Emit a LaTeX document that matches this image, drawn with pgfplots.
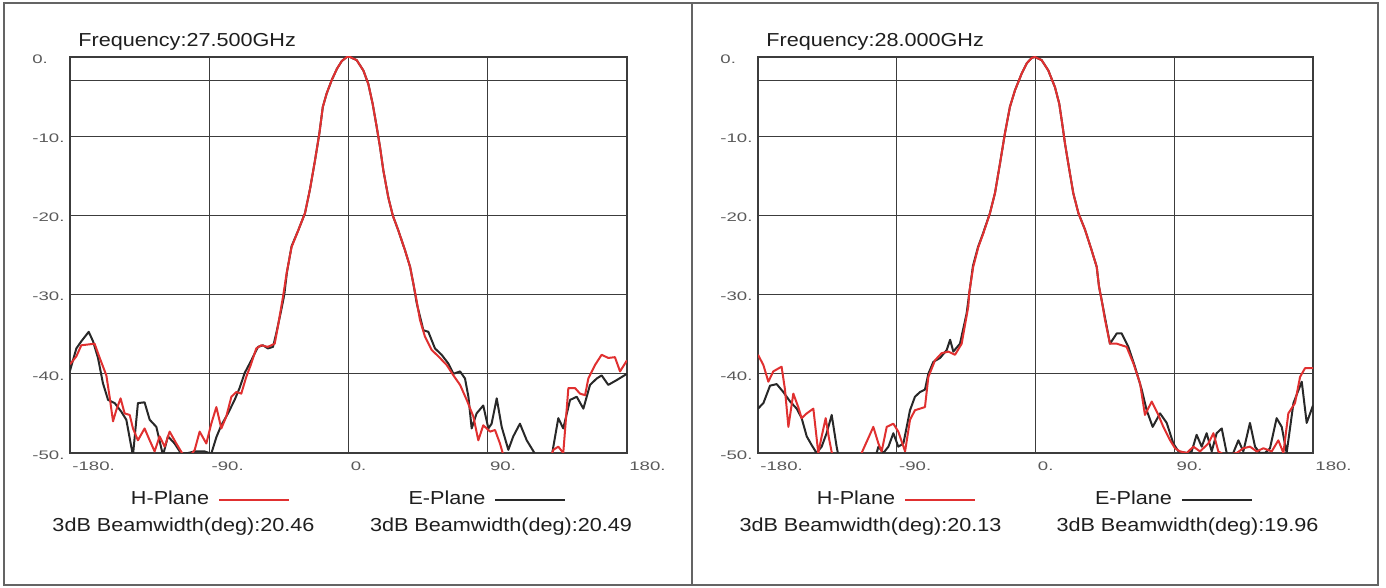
\documentclass[border=0pt]{standalone}
\usepackage{fontspec}
\setmainfont{Liberation Sans}
\newfontfamily\tickfont[FakeStretch=1.5]{Liberation Sans}
\newfontfamily\lblfont[FakeStretch=1.15]{Liberation Sans}
\usepackage{pgfplots}
\pgfplotsset{compat=1.18}
\definecolor{hred}{RGB}{224,48,48}
\definecolor{eblk}{RGB}{40,40,40}
\definecolor{gridc}{RGB}{60,60,60}
\definecolor{tickc}{RGB}{90,90,90}
\definecolor{framec}{RGB}{100,100,100}
\definecolor{txtc}{RGB}{30,30,30}
\pgfplotsset{pat/.style={
  scale only axis, width=278.5pt, height=198pt,
  xmin=-180,xmax=180,ymin=-50,ymax=0,
  xtick={-180,-90,0,90,180}, xticklabels={{-180.},{-90.},{0.},{90.},{180.}},
  ytick={-50,-40,-30,-20,-10,0}, yticklabels={{-50.},{-40.},{-30.},{-20.},{-10.},{0.}},
  extra y ticks={-3}, extra y tick labels={},
  extra y tick style={grid=major},
  grid=major, major grid style={gridc, line width=0.65pt},
  axis line style={gridc, line width=0.65pt},
  major tick length=0pt,
  ticklabel style={font=\tickfont\fontsize{6.2pt}{7pt}\selectfont, text=tickc, inner sep=0pt},
  xticklabel style={anchor=north west, xshift=1pt, yshift=-4pt},
  yticklabel style={anchor=west, xshift=-19pt, yshift=-1pt},
  every axis plot/.append style={line width=1pt, line join=round},
}}
\begin{document}
\begin{tikzpicture}
\useasboundingbox (0,0) rectangle (693pt,294pt);
% ---------------- left panel ----------------
\begin{axis}[pat, at={(35pt,67.5pt)}, anchor=south west]
\addplot[eblk] coordinates {
(-180,-39.6) (-175.9,-36.8) (-172.7,-35.9) (-167.9,-34.7) (-165.1,-35.9) (-161.9,-38.0)
(-158.7,-41.2) (-155.4,-43.3) (-151.1,-43.7) (-146.8,-44.8) (-143.6,-45.8) (-140.4,-49.2)
(-139.3,-50.3) (-136.1,-43.7) (-131.8,-43.6) (-128.5,-45.8) (-124.2,-46.7) (-119.9,-50.3)
(-116.7,-47.9) (-112.4,-48.8) (-108.1,-50.1) (-103.7,-50.0) (-99.4,-49.8) (-93.0,-49.8)
(-88.7,-50.1) (-85.4,-48.0) (-82.2,-46.5) (-77.9,-45.0) (-73.6,-43.3) (-70.4,-41.8)
(-67.1,-39.9) (-62.8,-38.3) (-58.5,-36.6) (-55.3,-36.4) (-52.1,-36.8) (-48.8,-36.6)
(-46.7,-34.9) (-43.4,-31.9) (-41.5,-30.0) (-39.8,-27.2) (-36.8,-23.9) (-32.5,-21.9)
(-28.1,-19.7) (-24.9,-16.7) (-21.6,-13.0) (-18.8,-9.6) (-16.6,-6.3) (-14.1,-4.6)
(-10.8,-2.9) (-7.5,-1.5) (-4.3,-0.5) (-1.1,0) (1.0,0) (5.3,-0.4) (9.6,-1.7) (12.8,-3.4)
(15.6,-5.9) (18.2,-8.8) (20.4,-11.4) (22.5,-14.3) (25.7,-17.7) (28.6,-20.0) (32.2,-21.9)
(36.5,-24.4) (39.8,-26.5) (41.9,-28.6) (44.1,-31.1) (48.4,-34.5) (51.6,-34.7) (55.9,-36.8)
(60.2,-37.6) (64.5,-38.7) (67.8,-40.0) (72.1,-39.7) (75.3,-40.6) (77.5,-42.9) (79.6,-46.9)
(82.8,-45.0) (87.1,-44.0) (90.4,-46.9) (92.5,-46.3) (95.8,-43.1) (99.0,-46.7) (103.3,-49.6)
(106.5,-47.9) (110.8,-46.3) (115.2,-48.4) (120.5,-50.1) (125,-52) (130,-52) (132.4,-49.2)
(135.6,-45.6) (138.8,-46.9) (143.2,-43.3) (147.5,-42.9) (151.8,-44.4) (156.1,-41.4)
(160.4,-40.6) (163.6,-40.2) (167.9,-41.4) (173.3,-40.8) (180,-40.0)
};
\addplot[hred] coordinates {
(-180,-38.8) (-175.9,-37.8) (-172.7,-36.4) (-168.4,-36.3) (-164.1,-36.2) (-160.8,-38.0)
(-156.5,-40.2) (-154.4,-42.9) (-152.2,-46.0) (-150.1,-44.6) (-147.3,-43.1) (-144.7,-45.0)
(-141.4,-45.2) (-139.3,-46.9) (-136.1,-48.4) (-131.8,-46.9) (-128.5,-48.4) (-125.3,-49.8)
(-122.1,-47.9) (-118.8,-49.2) (-115.6,-47.3) (-111.3,-48.8) (-107.0,-50.2) (-102.7,-50.5)
(-99.4,-49.6) (-96.2,-47.3) (-91.9,-48.8) (-88.7,-46.3) (-85.4,-44.2) (-82.2,-46.9)
(-79.0,-45.4) (-75.7,-42.9) (-72.5,-42.3) (-69.3,-42.5) (-66.1,-40.4) (-63.2,-38.9)
(-59.6,-36.8) (-56.4,-36.4) (-52.1,-36.6) (-47.7,-36.2) (-45.6,-34.0) (-42.1,-30.0)
(-40.0,-27.3) (-36.8,-24.0) (-32.5,-21.9) (-28.1,-19.7) (-24.9,-16.7) (-21.6,-13.0)
(-18.8,-9.6) (-16.6,-6.3) (-14.1,-4.6) (-10.8,-2.9) (-7.5,-1.5) (-4.3,-0.5) (-1.1,0)
(1.0,0) (5.3,-0.4) (9.6,-1.7) (12.8,-3.4) (15.6,-5.9) (18.2,-8.8) (20.4,-11.4) (22.5,-14.3)
(25.7,-17.7) (28.6,-20.0) (32.2,-21.9) (36.5,-24.4) (39.8,-26.5) (41.9,-28.6) (43.6,-30.3)
(46.2,-33.2) (49.4,-35.3) (53.8,-37.0) (58.1,-37.8) (63.5,-38.9) (67.8,-40.2) (72.1,-41.4)
(76.4,-43.3) (80.7,-45.4) (83.9,-48.4) (87.1,-46.5) (91.5,-47.3) (94.7,-47.1) (97.9,-48.8)
(100.1,-50.3) (104,-52) (120,-52) (128,-52) (132.4,-49.6) (135.6,-49.2) (138.8,-50.0)
(142.1,-41.8) (146.4,-41.8) (149.6,-42.5) (152.9,-42.7) (155.0,-40.6) (159.3,-38.9)
(163.6,-37.6) (167.9,-38.0) (172.2,-37.9) (175.5,-39.7) (180,-38.3)
};
\end{axis}
% ---------------- right panel ----------------
\begin{axis}[pat, width=277.5pt, at={(379pt,67.5pt)}, anchor=south west]
\addplot[eblk] coordinates {
(-180,-44.4) (-176.5,-43.7) (-172.2,-41.5) (-167.9,-41.3) (-163.6,-42.3) (-159.2,-43.5)
(-154.9,-44.4) (-151.7,-45.6) (-148.4,-47.9) (-145.2,-49.0) (-142.0,-50.0) (-138.7,-49.2)
(-135.5,-47.5) (-132.2,-45.2) (-129.0,-49.2) (-127.9,-50.3) (-115,-52) (-106,-52)
(-101.9,-49.2) (-98.7,-50.0) (-95.4,-49.2) (-92.2,-47.5) (-89.0,-49.2) (-85.7,-48.8)
(-81.4,-44.6) (-78.2,-42.9) (-74.9,-42.3) (-71.7,-42.0) (-69.5,-40.0) (-66.3,-38.5)
(-61.9,-38.0) (-57.6,-37.0) (-55.4,-35.7) (-53.3,-37.2) (-49.0,-36.2) (-44.7,-32.4)
(-42.8,-29.6) (-40.6,-26.4) (-37.3,-24.0) (-34.1,-22.3) (-29.7,-19.8) (-26.3,-17.2)
(-23.0,-13.4) (-19.8,-9.6) (-16.6,-6.3) (-13.3,-4.2) (-9.0,-2.1) (-5.7,-0.8) (-2.4,-0.1)
(-0.3,0) (4.0,-0.4) (8.3,-1.7) (12.6,-3.8) (15.4,-5.9) (17.6,-8.8) (19.1,-10.9) (21.3,-13.5)
(24.5,-17.2) (27.8,-19.7) (32.1,-21.8) (36.4,-24.4) (39.7,-26.5) (41.2,-29.0) (42.9,-30.7)
(48.3,-36.2) (52.7,-34.9) (55.9,-34.9) (60.2,-36.6) (64.5,-39.1) (68.9,-42.0) (72.1,-44.6)
(76.0,-46.7) (80.8,-45.0) (85.1,-46.2) (89.4,-48.8) (92.7,-49.8) (98.1,-50.0) (101.3,-49.8)
(104.5,-47.7) (107.8,-49.2) (111.0,-47.5) (114.3,-49.8) (117.5,-47.5) (120.8,-46.9)
(124.0,-50.0) (127.2,-50.5) (131.6,-48.4) (134.8,-49.8) (139.1,-46.2) (142.4,-49.2)
(145.6,-50.0) (148.9,-50.0) (152.1,-49.4) (156.4,-45.6) (159.7,-46.7) (162.9,-50.0)
(167.3,-43.7) (172.7,-41.0) (175.9,-46.2) (180,-44.0)
};
\addplot[hred] coordinates {
(-180,-37.6) (-176.5,-38.9) (-173.3,-41.0) (-170.1,-39.7) (-164.7,-39.1) (-162.5,-42.0)
(-160.3,-46.7) (-157.1,-42.5) (-153.9,-44.2) (-151.7,-45.6) (-148.4,-45.0) (-144.1,-44.4)
(-140.9,-50.0) (-138.7,-47.9) (-136.1,-45.6) (-134.0,-48.1) (-131.8,-50.3) (-125,-52)
(-116,-52) (-112.8,-50.0) (-108.4,-48.1) (-105.2,-46.7) (-101.9,-48.8) (-99.8,-49.8)
(-96.5,-46.7) (-92.2,-46.3) (-89.0,-47.3) (-84.6,-49.8) (-81.4,-45.8) (-78.2,-44.6)
(-74.9,-44.4) (-71.7,-44.2) (-69.5,-40.4) (-65.2,-38.3) (-60.9,-37.4) (-56.5,-37.2)
(-52.2,-37.6) (-47.9,-36.2) (-43.6,-31.5) (-43.0,-29.8) (-40.4,-26.5) (-37.1,-24.0)
(-33.9,-22.3) (-29.5,-19.7) (-26.3,-17.2) (-23.0,-13.4) (-19.8,-9.6) (-16.6,-6.3)
(-13.3,-4.2) (-9.0,-2.1) (-5.7,-0.8) (-2.4,-0.1) (-0.3,0) (4.0,-0.4) (8.3,-1.7) (12.6,-3.8)
(15.4,-5.9) (17.6,-8.8) (19.1,-10.9) (21.3,-13.5) (24.5,-17.2) (27.8,-19.7) (32.1,-21.8)
(36.4,-24.4) (39.7,-26.5) (41.2,-29.0) (42.9,-30.7) (45.1,-33.2) (48.3,-36.2) (52.7,-36.2)
(59.1,-36.6) (63.5,-38.7) (67.8,-41.2) (71.0,-45.2) (75.4,-43.5) (79.7,-45.2) (82.9,-46.7)
(87.3,-48.4) (90.5,-49.4) (93.7,-49.8) (98.1,-50.0) (102.4,-49.2) (106.7,-49.8)
(112.1,-48.8) (115.4,-47.5) (118.6,-49.8) (122.9,-50.3) (130.5,-50.0) (134.8,-49.4)
(139.1,-49.2) (143.5,-49.8) (147.8,-49.4) (153.2,-49.8) (157.5,-48.4) (160.8,-50.0)
(164.0,-45.0) (168.3,-43.7) (171.6,-40.4) (174.8,-39.3) (180,-39.3)
};
\end{axis}
% ---------------- frames and texts ----------------
\draw[framec, line width=0.75pt] (2pt,1.5pt) rectangle (689pt,292.5pt);
\draw[framec, line width=0.75pt] (346pt,1.5pt) -- (346pt,292.5pt);
\begin{scope}[every node/.style={inner sep=0pt, text=txtc, font=\lblfont\fontsize{9.4pt}{11pt}\selectfont}]
\node[anchor=base west] at (39pt,270.7pt) {Frequency:27.500GHz};
\node[anchor=base west] at (383pt,270.7pt) {Frequency:28.000GHz};
\node[anchor=base] at (105pt,41.7pt) {H-Plane\hspace{5pt}\textcolor{hred}{\rule[2pt]{35pt}{1pt}}};
\node[anchor=base] at (243.5pt,41.7pt) {E-Plane\hspace{5pt}\textcolor{eblk}{\rule[2pt]{35pt}{1pt}}};
\node[anchor=base] at (91.75pt,28.2pt) {3dB Beamwidth(deg):20.46};
\node[anchor=base] at (250.5pt,28.2pt) {3dB Beamwidth(deg):20.49};
\node[anchor=base] at (448pt,41.7pt) {H-Plane\hspace{5pt}\textcolor{hred}{\rule[2pt]{35pt}{1pt}}};
\node[anchor=base] at (586.75pt,41.7pt) {E-Plane\hspace{5pt}\textcolor{eblk}{\rule[2pt]{35pt}{1pt}}};
\node[anchor=base] at (435.25pt,28.2pt) {3dB Beamwidth(deg):20.13};
\node[anchor=base] at (593.75pt,28.2pt) {3dB Beamwidth(deg):19.96};
\end{scope}
\end{tikzpicture}
\end{document}
